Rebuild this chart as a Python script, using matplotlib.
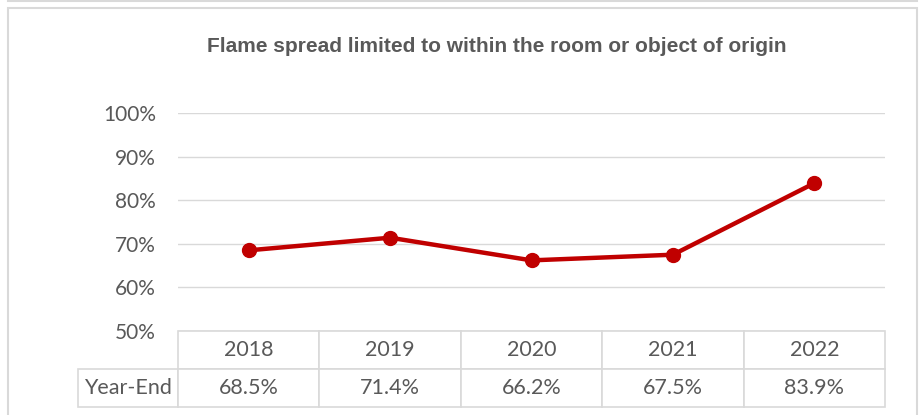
import matplotlib
matplotlib.use("Agg")
import matplotlib.pyplot as plt
from matplotlib.patches import Rectangle
from matplotlib.lines import Line2D
from matplotlib.table import Table
from matplotlib.ticker import FuncFormatter

# chart data
years = ["2018", "2019", "2020", "2021", "2022"]
year_end = [68.5, 71.4, 66.2, 67.5, 83.9]
row_label = "Year-End"
title = "Flame spread limited to within the room or object of origin"
y_ticks = [50, 60, 70, 80, 90, 100]

RED = "#C00000"
GRID = "#D9D9D9"
TXT = "#595959"

W, H = 922, 415
fig = plt.figure(figsize=(W / 100, H / 100), dpi=100)

# outer chart frame (bottom edge runs off the picture) and the line above it
fig.add_artist(Rectangle((8 / W, -0.05), 909 / W, 1.05 - 8 / H, transform=fig.transFigure,
                         fill=False, edgecolor=GRID, linewidth=1.5))
fig.add_artist(Line2D([8 / W, 917 / W], [1 - 1.5 / H, 1 - 1.5 / H], transform=fig.transFigure,
                      color=GRID, linewidth=1.5))

# plot area
x0, x1 = 178, 885
ytop, ybot = 113, 331
ax = fig.add_axes([x0 / W, 1 - ybot / H, (x1 - x0) / W, (ybot - ytop) / H])

xs = list(range(len(years)))
ax.plot(xs, year_end, color=RED, linewidth=3.2, marker="o", markersize=10,
        solid_capstyle="round", zorder=3)

ax.set_xlim(-0.5, len(years) - 0.5)
ax.set_ylim(50, 100)
ax.set_yticks(y_ticks)
ax.yaxis.set_major_formatter(FuncFormatter(lambda v, p: f"{v:.0f}%"))
ax.set_xticks([])
ax.grid(axis="y", color=GRID, linewidth=1)
ax.set_axisbelow(True)
for s in ax.spines.values():
    s.set_visible(False)
ax.tick_params(axis="y", length=0, pad=16, labelsize=15, labelcolor=TXT)
for lab in ax.get_yticklabels():
    lab.set_fontfamily("Lato")

# data table under the plot (row label column sits left of the grid bbox)
ah = ybot - ytop
aw = x1 - x0
lw = 100 / aw
cw = 1 / len(years)
rh = (407 - ybot) / ah / 2
tab = Table(ax, bbox=[0, -2 * rh, 1, 2 * rh])
for j, yr in enumerate(years):
    tab.add_cell(0, j, cw, rh, text=yr, loc="center")
    tab.add_cell(1, j, cw, rh, text=f"{year_end[j]:.1f}%", loc="center")
tab.add_cell(1, -1, lw, rh, text=row_label, loc="center")
tab.auto_set_font_size(False)
tab.set_fontsize(15.5)
for (r, c), cell in tab.get_celld().items():
    cell.set_edgecolor(GRID)
    cell.set_linewidth(1.2)
    cell.get_text().set_color(TXT)
    cell.get_text().set_fontfamily("Lato")
ax.add_table(tab)

fig.text(497 / W, 1 - 46 / H, title, ha="center", va="center",
         fontsize=15, fontweight="bold", color=TXT, family="Liberation Sans")

fig.savefig("out.png", dpi=100)
